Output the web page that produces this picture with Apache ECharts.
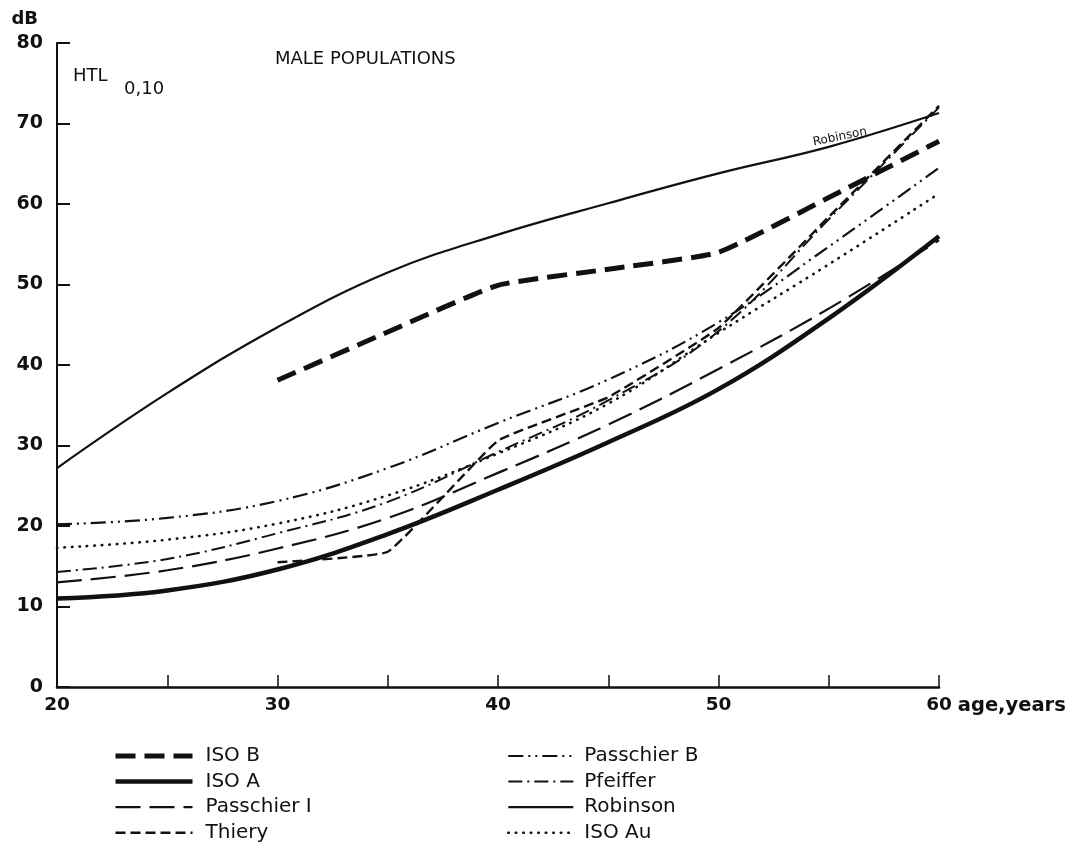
<!DOCTYPE html>
<html><head><meta charset="utf-8">
<script src="https://cdn.jsdelivr.net/npm/echarts@6/dist/echarts.min.js"></script>
<style>html,body{margin:0;padding:0;background:#fff}#c{width:1074px;height:857px}</style>
</head><body><div id="c"></div>
<script>
// ---- data ----
const ages       = [20, 25, 30, 35, 40, 45, 50, 55, 60];
const isoB       = [null, null, 38.1, 44.1, 49.9, 51.9, 54.0, 60.8, 67.8];
const isoA       = [11.0, 12.0, 14.6, 19.0, 24.5, 30.4, 37.0, 45.8, 56.0];
const passchierI = [13.0, 14.5, 17.2, 21.0, 26.6, 32.6, 39.5, 47.0, 55.5];
const thiery     = [null, null, 15.5, 16.8, 30.6, 36.0, 44.6, 58.4, 72.2];
const passchierB = [20.2, 21.0, 23.1, 27.2, 32.8, 38.2, 45.3, 54.7, 64.5];
const pfeiffer   = [14.3, 15.9, 19.1, 23.0, 29.2, 35.6, 44.2, 58.1, 72.0];
const robinson   = [27.2, 36.5, 44.7, 51.5, 56.2, 60.1, 63.8, 67.1, 71.3];
const isoAu      = [17.3, 18.3, 20.3, 23.8, 29.0, 35.2, 44.0, 52.5, 61.3];
const xTickLabels = [20, 30, 40, 50, 60];
const yTickLabels = [0, 10, 20, 30, 40, 50, 60, 70, 80];

function pairs(vals) {
  return ages.map((a, i) => [a, vals[i]]).filter(p => p[1] != null);
}

const INK = '#111';
const chart = echarts.init(document.getElementById('c'), null, {renderer: 'canvas'});

function ser(name, vals, width, type, extra) {
  return Object.assign({
    name: name, type: 'line', data: pairs(vals),
    symbol: 'none', smooth: 0.4,
    lineStyle: {color: INK, width: width, type: type, cap: 'butt'},
    itemStyle: {color: INK},
    emphasis: {disabled: true}, silent: true
  }, extra || {});
}

const legendText = {color: INK, fontFamily: 'DejaVu Sans', fontSize: 20};
const legendBase = {
  orient: 'vertical', top: 746, height: 110, padding: 0,
  itemHeight: 14, itemGap: 5.6, selectedMode: false,
  itemStyle: {opacity: 0},
  lineStyle: {width: 'inherit', type: 'inherit', color: INK}
};

chart.setOption({
  animation: false,
  backgroundColor: '#fff',
  grid: {left: 57, right: 135, top: 43, bottom: 170},
  xAxis: {
    type: 'value', min: 20, max: 60, interval: 5,
    name: 'age,years', nameLocation: 'end', nameGap: 14,
    nameTextStyle: {color: INK, fontFamily: 'DejaVu Sans', fontWeight: 'bold', fontSize: 19.5,
      verticalAlign: 'top', align: 'left', padding: [9, 0, 0, 0]},
    axisLine: {lineStyle: {color: INK, width: 2.5}},
    axisTick: {inside: true, length: 12, lineStyle: {color: INK, width: 1.5}},
    axisLabel: {color: INK, fontFamily: 'DejaVu Sans', fontWeight: 'bold', fontSize: 18.5, margin: 9,
      formatter: v => xTickLabels.indexOf(v) >= 0 ? String(v) : ''},
    splitLine: {show: false}
  },
  yAxis: {
    type: 'value', min: 0, max: 80, interval: 10,
    name: 'dB', nameLocation: 'end', nameGap: 15,
    nameTextStyle: {color: INK, fontFamily: 'DejaVu Sans', fontWeight: 'bold', fontSize: 18,
      align: 'right', padding: [0, 19, 0, 0]},
    axisLine: {show: true, lineStyle: {color: INK, width: 2}},
    axisTick: {show: true, inside: true, length: 13, lineStyle: {color: INK, width: 2}},
    axisLabel: {color: INK, fontFamily: 'DejaVu Sans', fontWeight: 'bold', fontSize: 19, margin: 14,
      formatter: v => yTickLabels.indexOf(v) >= 0 ? String(v) : ''},
    splitLine: {show: false}
  },
  legend: [
    Object.assign({}, legendBase, {data: ['ISO B', 'ISO A', 'Passchier I', 'Thiery'],
      left: 113, itemWidth: 77, textStyle: Object.assign({padding: [0, 0, 0, 8]}, legendText)}),
    Object.assign({}, legendBase, {data: ['Passchier B', 'Pfeiffer', 'Robinson', 'ISO Au'],
      left: 507, itemWidth: 65, textStyle: Object.assign({padding: [0, 0, 0, 6]}, legendText)})
  ],
  graphic: [
    {type: 'text', left: 275, top: 50, style: {text: 'MALE POPULATIONS', fill: INK,
      font: '18px "DejaVu Sans"'}},
    {type: 'text', left: 73, top: 67, style: {text: 'HTL', fill: INK, font: '18px "DejaVu Sans"'}},
    {type: 'text', left: 124, top: 80, style: {text: '0,10', fill: INK, font: '18px "DejaVu Sans"'}},
    {type: 'text', x: 840, y: 137, rotation: 0.2,
      style: {text: 'Robinson', fill: INK, font: '12px "DejaVu Sans"', align: 'center', verticalAlign: 'middle'}}
  ],
  series: [
    ser('ISO B', isoB, 5, [20, 9], {smooth: 0.15}),
    ser('ISO A', isoA, 4.5, 'solid'),
    ser('Passchier I', passchierI, 2.2, [25, 9]),
    ser('Thiery', thiery, 2.4, [10, 5], {smooth: 0.1}),
    ser('Passchier B', passchierB, 2.2, [15, 5, 2, 5, 2, 5]),
    ser('Pfeiffer', pfeiffer, 2, [14, 5, 2, 5]),
    ser('Robinson', robinson, 2.2, 'solid'),
    ser('ISO Au', isoAu, 2.6, [0.5, 7])
  ]
});
// round caps for the dotted line
const opt = chart.getOption();
opt.series[7].lineStyle.cap = 'round';
chart.setOption({series: opt.series});
</script></body></html>
